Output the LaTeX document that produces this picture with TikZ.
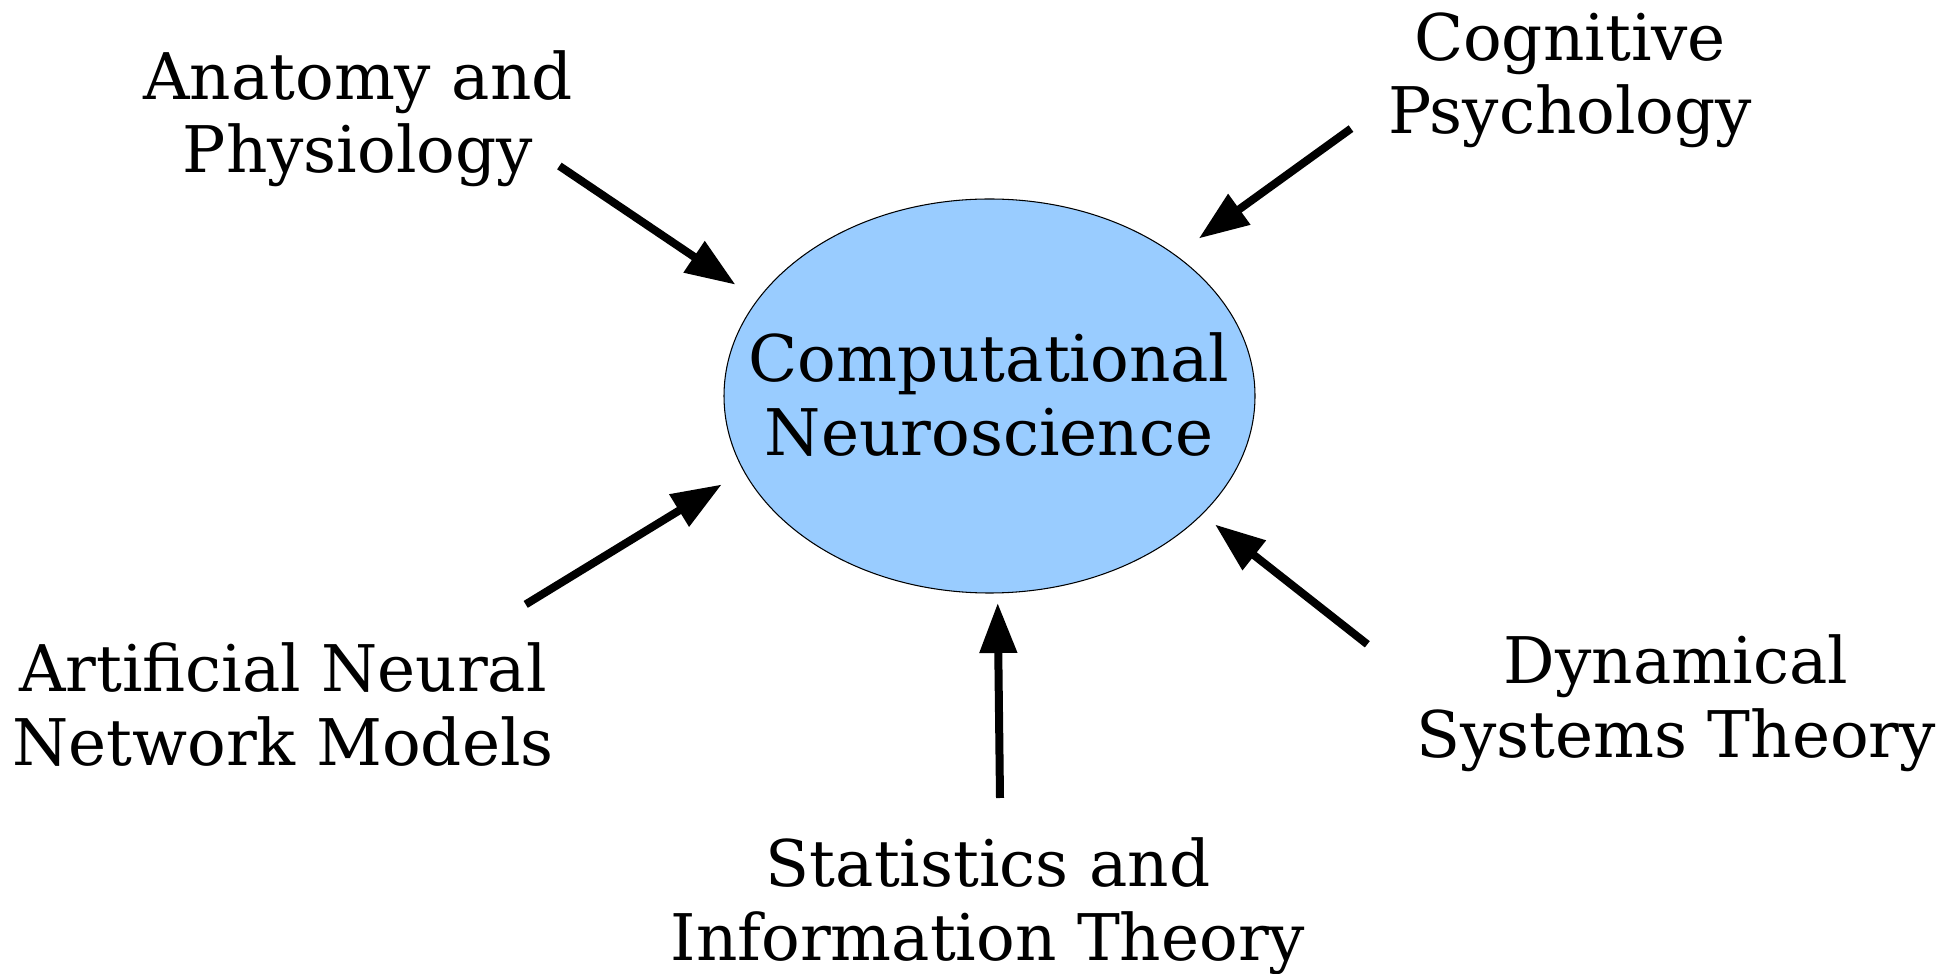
\documentclass[tikz,border=0pt]{standalone}
\usepackage{fontspec}
\setmainfont{DejaVu Serif}
\usetikzlibrary{shapes.geometric}
\usetikzlibrary{arrows.meta}
\definecolor{cnblue}{HTML}{99CCFF}

\begin{document}
\begin{tikzpicture}[x=1mm,y=1mm,
  field/.style={align=center, inner sep=0pt, font=\fontsize{18.3}{20.9}\selectfont},
  feed/.style={line width=0.8mm, -{Triangle[length=5mm,width=3.6mm]}}]
  \useasboundingbox (0,0) rectangle (195.8,97.3); % 枠

  % 中心の楕円
  \node(cn) at (98.95,57.7) [ellipse, draw, line width=0.3pt, fill=cnblue,
    minimum width=53.1mm, minimum height=39.4mm] {};
  \node(cnlabel) at (98.9,57.85) [field] {Computational\\Neuroscience};

  % 周りの分野
  \node(anat) at (35.8,85.45) [field] {Anatomy and\\Physiology};
  \node(cog)  at (157.0,89.25) [field] {Cognitive\\Psychology};
  \node(ann)  at (28.3,26.85) [field] {Artificial Neural\\Network Models};
  \node(stat) at (98.8,6.7)   [field] {Statistics and\\Information Theory};
  \node(dyn)  at (167.6,27.0) [field] {Dynamical\\Systems Theory};

  % 矢印の端
  \coordinate (anatS) at (55.94,80.7);  \coordinate (anatE) at (73.55,68.83);
  \coordinate (cogS)  at (135.1,84.44); \coordinate (cogE)  at (119.88,73.45);
  \coordinate (annS)  at (52.57,36.86); \coordinate (annE)  at (72.17,48.85);
  \coordinate (statS) at (100.0,17.5);  \coordinate (statE) at (99.77,37.0);
  \coordinate (dynS)  at (136.73,32.87); \coordinate (dynE) at (121.5,44.85);

  % 矢印
  \foreach \f in {anat,cog,ann,stat,dyn} {
    \draw[feed] (\f S) -- (\f E);
  }
\end{tikzpicture}
\end{document}
